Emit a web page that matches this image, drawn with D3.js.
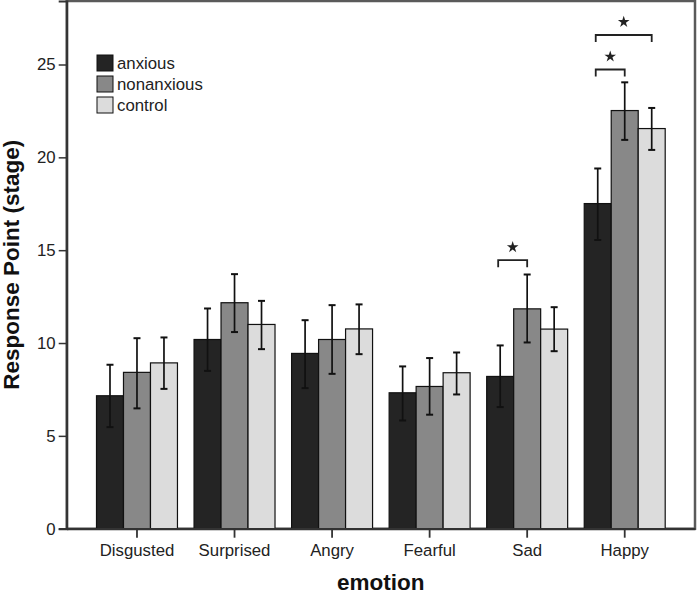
<!DOCTYPE html>
<html>
<head>
<meta charset="utf-8">
<script src="https://cdn.jsdelivr.net/npm/d3@7"></script>
<style>
  html, body { margin: 0; padding: 0; background: #fff; }
  svg { display: block; }
  text { font-family: "Liberation Sans", Arial, sans-serif; }
</style>
</head>
<body>
<svg id="chart" width="698" height="595"></svg>
<script>
// ---- data ----
const categories = ["Disgusted", "Surprised", "Angry", "Fearful", "Sad", "Happy"];
const seriesNames = ["anxious", "nonanxious", "control"];
const anxious    = [7.16, 10.19, 9.44, 7.32, 8.20, 17.51];
const nonanxious = [8.42, 12.17, 10.19, 7.66, 11.84, 22.52];
const control    = [8.93, 11.00, 10.76, 8.40, 10.75, 21.55];
const anxiousLow     = [5.47, 8.50, 7.57, 5.83, 6.55, 15.55];
const anxiousHigh    = [8.83, 11.86, 11.23, 8.74, 9.87, 19.40];
const nonanxiousLow  = [6.48, 10.59, 8.34, 6.14, 10.03, 20.94];
const nonanxiousHigh = [10.26, 13.71, 12.04, 9.19, 13.69, 24.04];
const controlLow     = [7.53, 9.67, 9.40, 7.23, 9.56, 20.40];
const controlHigh    = [10.30, 12.27, 12.08, 9.49, 11.93, 22.66];
const yTicks = [0, 5, 10, 15, 20, 25];
// significance brackets: category, from series, to series, level (data units)
const brackets = [
  { cat: "Sad",   from: "anxious", to: "nonanxious", level: 14.46, label: "*" },
  { cat: "Happy", from: "anxious", to: "nonanxious", level: 24.73, label: "*" },
  { cat: "Happy", from: "anxious", to: "control",    level: 26.59, label: "*" }
];
const xTitle = "emotion";
const yTitle = "Response Point (stage)";

// ---- build table ----
const values = { anxious, nonanxious, control };
const lows = { anxious: anxiousLow, nonanxious: nonanxiousLow, control: controlLow };
const highs = { anxious: anxiousHigh, nonanxious: nonanxiousHigh, control: controlHigh };
const colors = { anxious: "#242424", nonanxious: "#888888", control: "#dcdcdc" };

const rows = categories.map((c, i) => ({
  cat: c,
  items: seriesNames.map(s => ({ series: s, value: values[s][i], low: lows[s][i], high: highs[s][i] }))
}));

// ---- layout ----
const pLeft = 66.7, pRight = 695, pTop = 1, pBottom = 528.7;
const svg = d3.select("#chart");

const y = d3.scaleLinear().domain([0, 28.42]).range([pBottom, pTop]);
const x0 = d3.scaleBand().domain(categories).range([pLeft, pRight])
  .paddingInner(0.17).paddingOuter(0.3055);
const x1 = d3.scaleBand().domain(seriesNames).range([0, x0.bandwidth()]);

// plot frame
svg.append("rect")
  .attr("x", pLeft).attr("y", pTop)
  .attr("width", pRight - pLeft).attr("height", pBottom - pTop)
  .attr("fill", "#fff").attr("stroke", "#5a5a5a").attr("stroke-width", 2.5);

// bars
const groups = svg.append("g").selectAll("g").data(rows).join("g")
  .attr("transform", d => `translate(${x0(d.cat)},0)`);

groups.selectAll("rect").data(d => d.items).join("rect")
  .attr("x", d => x1(d.series))
  .attr("y", d => y(d.value))
  .attr("width", x1.bandwidth())
  .attr("height", d => y(0) - y(d.value))
  .attr("fill", d => colors[d.series])
  .attr("stroke", "#111")
  .attr("stroke-width", 1.2);

// error bars
const capW = 7;
const eb = groups.selectAll("g.eb").data(d => d.items).join("g").attr("class", "eb")
  .attr("transform", d => `translate(${x1(d.series) + x1.bandwidth() / 2},0)`);
eb.append("line")
  .attr("x1", 0).attr("x2", 0)
  .attr("y1", d => y(d.low)).attr("y2", d => y(d.high))
  .attr("stroke", "#111").attr("stroke-width", 1.7);
eb.append("line")
  .attr("x1", -capW / 2).attr("x2", capW / 2)
  .attr("y1", d => y(d.high)).attr("y2", d => y(d.high))
  .attr("stroke", "#111").attr("stroke-width", 2);
eb.append("line")
  .attr("x1", -capW / 2).attr("x2", capW / 2)
  .attr("y1", d => y(d.low)).attr("y2", d => y(d.low))
  .attr("stroke", "#111").attr("stroke-width", 2);

// axes
const yAxis = d3.axisLeft(y).tickValues(yTicks).tickSize(8).tickPadding(3).tickFormat(d3.format("d"));
const gy = svg.append("g").attr("transform", `translate(${pLeft},0)`).call(yAxis);
gy.select(".domain").attr("stroke", "#333").attr("stroke-width", 2.2);
gy.selectAll(".tick line").attr("stroke", "#333").attr("stroke-width", 1.5);
gy.selectAll(".tick text").attr("fill", "#222").style("font-size", "16.8px");

const xAxis = d3.axisBottom(x0).tickSize(9).tickPadding(6).tickSizeOuter(0);
const gx = svg.append("g").attr("transform", `translate(0,${pBottom})`).call(xAxis);
gx.select(".domain").attr("stroke", "#333").attr("stroke-width", 2.2);
gx.selectAll(".tick line").attr("stroke", "#333").attr("stroke-width", 1.8);
gx.selectAll(".tick text").attr("fill", "#222").style("font-size", "16.8px");

// axis titles
svg.append("text")
  .attr("x", (pLeft + pRight) / 2).attr("y", 590)
  .attr("text-anchor", "middle")
  .style("font-size", "22.5px").style("font-weight", "bold").attr("fill", "#111")
  .text(xTitle);
svg.append("text")
  .attr("transform", `translate(19,${(pTop + pBottom) / 2}) rotate(-90)`)
  .attr("text-anchor", "middle")
  .style("font-size", "22.5px").style("font-weight", "bold").attr("fill", "#111")
  .text(yTitle);

// significance brackets
const tip = 7;
const star = d3.symbol().type(d3.symbolStar).size(42);
brackets.forEach(b => {
  const xa = x0(b.cat) + x1(b.from) + x1.bandwidth() / 2 - 2;
  const xb = x0(b.cat) + x1(b.to) + x1.bandwidth() / 2;
  const yl = y(b.level);
  svg.append("path")
    .attr("d", `M${xa},${yl + tip}V${yl}H${xb}V${yl + tip}`)
    .attr("fill", "none").attr("stroke", "#222").attr("stroke-width", 1.8);
  svg.append("path")
    .attr("d", star)
    .attr("transform", `translate(${(xa + xb) / 2},${yl - 13})`)
    .attr("fill", "#222");
});

// legend
const lg = svg.append("g").attr("transform", "translate(97,55)");
const li = lg.selectAll("g").data(seriesNames).join("g")
  .attr("transform", (d, i) => `translate(0,${i * 21})`);
li.append("rect").attr("width", 16).attr("height", 16)
  .attr("fill", d => colors[d]).attr("stroke", "#111").attr("stroke-width", 1);
li.append("text").attr("x", 20).attr("y", 8).attr("dy", "0.35em")
  .style("font-size", "16.8px").attr("fill", "#222")
  .text(d => d);
</script>
</body>
</html>
